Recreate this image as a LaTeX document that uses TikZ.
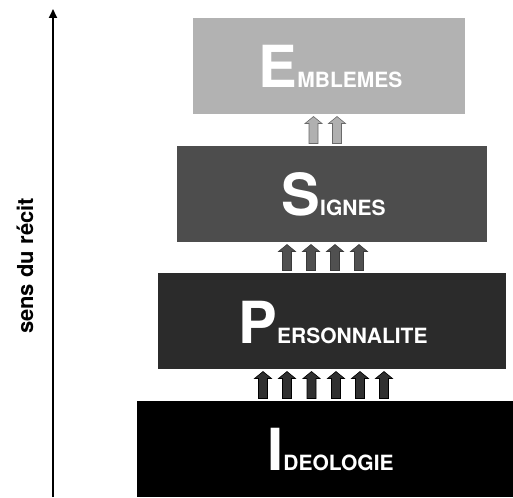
\documentclass[tikz,border=0pt]{standalone}
\usepackage{fontspec}
\setmainfont{TeX Gyre Heros}
\usetikzlibrary{arrows.meta}
\definecolor{cEmb}{HTML}{B2B2B2}
\definecolor{cSig}{HTML}{4D4D4D}
\definecolor{cPer}{HTML}{2B2B2B}
\definecolor{aEmb}{HTML}{B0B0B0}
\definecolor{aEmbD}{HTML}{6A6A6A}
\definecolor{aSig}{HTML}{505050}
\definecolor{aSigD}{HTML}{3A3A3A}
\definecolor{aPer}{HTML}{303030}
\definecolor{aPerD}{HTML}{000000}
\newcommand\bigL[1]{{\fontsize{58}{58}\selectfont\bfseries #1}}
\newcommand\smL[1]{{\fontsize{21}{21}\selectfont\bfseries #1}}
% block arrow: #1 = x centre, #2 = bottom node, #3 = top node, #4 fill, #5 outline
\newcommand\blkarrow[5]{%
  \path (#2.north -| {#1,0}) coordinate (ab) (#3.south -| {#1,0}) coordinate (at);
  \filldraw[fill=#4,draw=#5,line width=0.6pt]
    ([xshift=-4.5pt,yshift=2.5pt]ab) -- ([xshift=-4.5pt,yshift=-9.5pt]at)
    -- ([xshift=-8.5pt,yshift=-9.5pt]at) -- ([yshift=-2.5pt]at)
    -- ([xshift=8.5pt,yshift=-9.5pt]at) -- ([xshift=4.5pt,yshift=-9.5pt]at)
    -- ([xshift=4.5pt,yshift=2.5pt]ab) -- cycle;}
\begin{document}
\begin{tikzpicture}[x=1pt,y=-1pt,
  level/.style={draw=none,inner sep=0pt,outer sep=0pt,anchor=north west},
  lbl/.style={text=white,inner sep=0pt,anchor=base}]
\useasboundingbox (0,0) rectangle (513,497);
% boxes
\node[level,fill=cEmb,minimum width=272pt,minimum height=96pt] (emb) at (193,18) {};
\node[level,fill=cSig,minimum width=310pt,minimum height=96pt] (sig) at (177,146) {};
\node[level,fill=cPer,minimum width=348pt,minimum height=96pt] (per) at (158,273) {};
\node[level,fill=black,minimum width=376pt,minimum height=96pt] (ide) at (137,401) {};
% labels
\node[lbl] (tEmb) at (330.5,88) {\bigL{E}\smL{MBLEMES}};
\node[lbl] (tSig) at (333.5,215) {\bigL{S}\smL{IGNES}};
\node[lbl] (tPer) at (333,343) {\bigL{P}\smL{ERSONNALITE}};
\node[lbl] (tIde) at (330.5,470) {\bigL{I}\smL{DEOLOGIE}};
% block arrows
\foreach \x in {313.5,337} {\blkarrow{\x}{sig}{emb}{aEmb}{aEmbD}}
\foreach \x in {287,311,335,359} {\blkarrow{\x}{per}{sig}{aSig}{aSigD}}
\foreach \x in {263,287,311.5,336,360,384} {\blkarrow{\x}{ide}{per}{aPer}{aPerD}}
% axis
\coordinate (axB) at (53,497);
\coordinate (axT) at (53,9);
\draw[line width=2.2pt,-{Triangle[length=9pt,width=8pt]}] (axB) -- (axT);
\node[rotate=90,inner sep=0pt] (sens) at (25,266) {\fontsize{22}{22}\selectfont\bfseries sens du récit};
\end{tikzpicture}
\end{document}
